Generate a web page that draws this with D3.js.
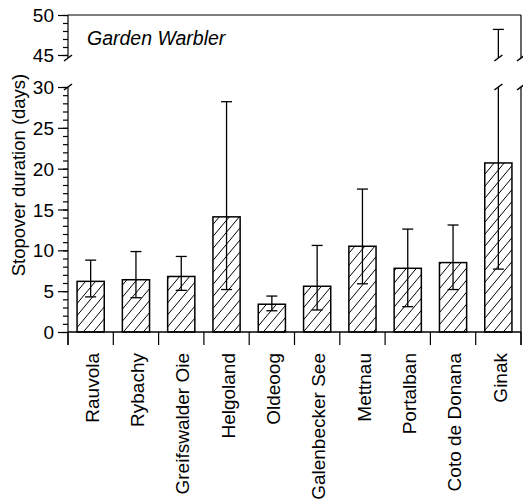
<!DOCTYPE html>
<html><head><meta charset="utf-8">
<script src="https://cdn.jsdelivr.net/npm/d3@7"></script>
<style>body{margin:0;background:#fff}svg{display:block}text{font-family:"Liberation Sans",Arial,sans-serif;fill:#000}</style>
</head><body><svg id="c" width="523" height="503"></svg>
<script>
const categories = ["Rauvola","Rybachy","Greifswalder Oie","Helgoland","Oldeoog","Galenbecker See","Mettnau","Portalban","Coto de Donana","Ginak"];
const means = [6.2, 6.4, 6.8, 14.1, 3.4, 5.6, 10.5, 7.8, 8.5, 20.7];
const upper = [8.8, 9.85, 9.25, 28.2, 4.4, 10.6, 17.5, 12.6, 13.1, 48.2];
const lower = [4.3, 4.2, 5.1, 5.2, 2.6, 2.7, 5.9, 3.1, 5.2, 7.7];
const lowTicks = [0, 5, 10, 15, 20, 25, 30];
const highTicks = [45, 50];
const title = "Garden Warbler";
const yLabel = "Stopover duration (days)";

const svg = d3.select("#c");
const left = 68, right = 521;
const x = d3.scaleBand().domain(categories).range([left, right]).paddingInner(0.4).paddingOuter(0.2);
const yLow = d3.scaleLinear().domain([0, 30]).range([332, 87]);
const yHigh = d3.scaleLinear().domain([45, 50]).range([55, 15]);
const upBreak = 58, lowBreak = 87;

// hatch pattern
const defs = svg.append("defs");
const pat = defs.append("pattern").attr("id","hatch").attr("patternUnits","userSpaceOnUse")
  .attr("width",10).attr("height",12);
pat.append("rect").attr("width",10).attr("height",12).attr("fill","#fff");
pat.append("path").attr("d","M0,12 L10,0 M-3,3.6 L3,-3.6 M7,15.6 L13,8.4").attr("stroke","#000").attr("stroke-width",1);

const g = svg.append("g");
function slash(xp, yp){
  g.append("line").attr("x1",xp-4).attr("y1",yp+3).attr("x2",xp+4).attr("y2",yp-3)
   .attr("stroke","#000").attr("stroke-width",1.5);
}

// frame top & right
g.append("line").attr("x1",left).attr("x2",right).attr("y1",yHigh(50)).attr("y2",yHigh(50)).attr("stroke","#000").attr("stroke-width",1.2);
g.append("line").attr("x1",right).attr("x2",right).attr("y1",yHigh(50)).attr("y2",upBreak).attr("stroke","#000").attr("stroke-width",1.2);
g.append("line").attr("x1",right).attr("x2",right).attr("y1",lowBreak).attr("y2",345).attr("stroke","#000").attr("stroke-width",1.2);
slash(right, upBreak); slash(right, lowBreak);

// y axes
const axLow = g.append("g").attr("transform",`translate(${left},0)`)
  .call(d3.axisLeft(yLow).tickValues(lowTicks).tickSize(10).tickFormat(d3.format("d")));
const axHigh = g.append("g").attr("transform",`translate(${left},0)`)
  .call(d3.axisLeft(yHigh).tickValues(highTicks).tickSize(10).tickFormat(d3.format("d")));
const minorLow = g.append("g").attr("transform",`translate(${left},0)`)
  .call(d3.axisLeft(yLow).tickValues(d3.range(0,31)).tickSize(5).tickFormat(""));
const minorHigh = g.append("g").attr("transform",`translate(${left},0)`)
  .call(d3.axisLeft(yHigh).tickValues(d3.range(45,51)).tickSize(5).tickFormat(""));
[axLow, axHigh, minorLow, minorHigh].forEach(a => {
  a.select(".domain").remove();
  a.selectAll("line").attr("stroke","#000").attr("stroke-width",1.2);
  a.selectAll("text").attr("font-size",19).attr("x",-14).attr("dy","0.35em").style("font-family","Liberation Sans, Arial, sans-serif");
});
g.append("line").attr("x1",left).attr("x2",left).attr("y1",yHigh(50)).attr("y2",upBreak).attr("stroke","#000").attr("stroke-width",1.2);
g.append("line").attr("x1",left).attr("x2",left).attr("y1",lowBreak).attr("y2",345).attr("stroke","#000").attr("stroke-width",1.2);
slash(left, upBreak); slash(left, lowBreak);

// bars
categories.forEach((c,i) => {
  g.append("rect").attr("x",x(c)).attr("y",yLow(means[i])).attr("width",x.bandwidth())
   .attr("height",yLow(0)-yLow(means[i])).attr("fill","url(#hatch)").attr("stroke","#000").attr("stroke-width",1.5);
});
// error bars
const cap = 5.5;
categories.forEach((c,i) => {
  const cx = x(c) + x.bandwidth()/2;
  const yl = yLow(lower[i]);
  g.append("line").attr("x1",cx-cap).attr("x2",cx+cap).attr("y1",yl).attr("y2",yl).attr("stroke","#000").attr("stroke-width",1.3);
  if (upper[i] <= 30) {
    const yu = yLow(upper[i]);
    g.append("line").attr("x1",cx).attr("x2",cx).attr("y1",yu).attr("y2",yl).attr("stroke","#000").attr("stroke-width",1.3);
    g.append("line").attr("x1",cx-cap).attr("x2",cx+cap).attr("y1",yu).attr("y2",yu).attr("stroke","#000").attr("stroke-width",1.3);
  } else {
    g.append("line").attr("x1",cx).attr("x2",cx).attr("y1",lowBreak).attr("y2",yl).attr("stroke","#000").attr("stroke-width",1.3);
    const yu = yHigh(upper[i]);
    g.append("line").attr("x1",cx).attr("x2",cx).attr("y1",yu).attr("y2",upBreak).attr("stroke","#000").attr("stroke-width",1.3);
    g.append("line").attr("x1",cx-cap).attr("x2",cx+cap).attr("y1",yu).attr("y2",yu).attr("stroke","#000").attr("stroke-width",1.3);
    slash(cx, upBreak); slash(cx, lowBreak);
  }
});

// x axis
const xb = g.append("g").attr("transform",`translate(0,${yLow(0)})`);
xb.append("line").attr("x1",left).attr("x2",right).attr("stroke","#000").attr("stroke-width",1.5);
const bounds = d3.range(0, categories.length+1).map(i => left + i*x.step());
xb.selectAll(".bt").data(bounds).join("line").attr("x1",d=>d).attr("x2",d=>d).attr("y1",0).attr("y2",13)
  .attr("stroke","#000").attr("stroke-width",1.2);
xb.selectAll(".cl").data(categories).join("text")
  .attr("transform",d=>`translate(${x(d)+x.bandwidth()/2+1.5},21) rotate(-90)`)
  .attr("text-anchor","end").attr("dy","0.35em").attr("font-size",19).text(d=>d);

// title
g.append("text").attr("x",87).attr("y",45).attr("font-size",19.5).attr("font-style","italic").text(title);
// y label
g.append("text").attr("transform","translate(19,175) rotate(-90)").attr("text-anchor","middle")
  .attr("dy","0.35em").attr("font-size",18.5).text(yLabel);
</script></body></html>
